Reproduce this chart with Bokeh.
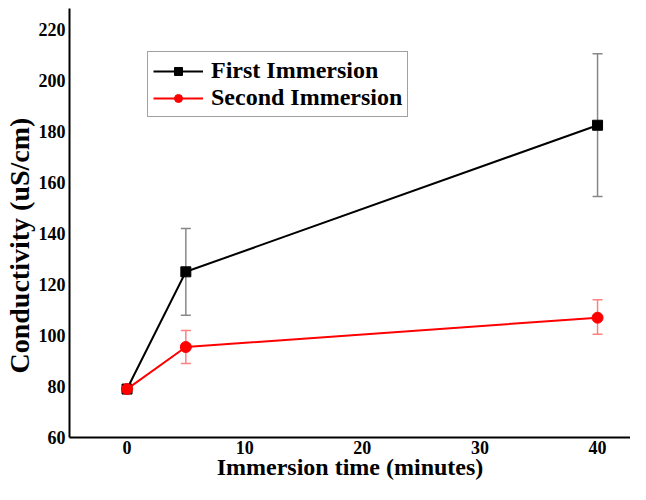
from bokeh.plotting import figure
from bokeh.models import ColumnDataSource, Whisker, TeeHead, Range1d, FixedTicker, Title
from bokeh.embed import file_html
from bokeh.resources import INLINE

time_min = [0, 5, 40]
first_mean = [79, 125, 182.5]
first_err_low = [79, 108, 154.5]
first_err_high = [79, 142, 210.5]
second_mean = [79, 95.5, 107]
second_err_low = [79, 89, 100.5]
second_err_high = [79, 102, 114]
x_ticks = [0, 10, 20, 30, 40]
y_ticks = [60, 80, 100, 120, 140, 160, 180, 200, 220]
x_title = "Immersion time (minutes)"
y_title = "Conductivity (uS/cm)"

FONT = "Liberation Serif"

p = figure(width=630, height=484, output_backend="svg", toolbar_location=None,
           x_range=Range1d(-4.89, 42.8), y_range=Range1d(60, 228.3),
           min_border_left=69, min_border_right=0, min_border_top=8, min_border_bottom=47)
p.outline_line_color = None
p.grid.visible = False
p.background_fill_color = "white"
p.border_fill_color = "white"

s1 = ColumnDataSource(dict(x=time_min, y=first_mean, lo=first_err_low, hi=first_err_high))
s2 = ColumnDataSource(dict(x=time_min, y=second_mean, lo=second_err_low, hi=second_err_high))

w1 = Whisker(source=s1, base="x", lower="lo", upper="hi", line_color="#888888", line_width=1.5,
             upper_head=TeeHead(size=10, line_color="#888888", line_width=1.5),
             lower_head=TeeHead(size=10, line_color="#888888", line_width=1.5))
w2 = Whisker(source=s2, base="x", lower="lo", upper="hi", line_color="#ff8080", line_width=1.5,
             upper_head=TeeHead(size=10, line_color="#ff8080", line_width=1.5),
             lower_head=TeeHead(size=10, line_color="#ff8080", line_width=1.5))
p.add_layout(w1)
p.add_layout(w2)

p.line("x", "y", source=s1, line_color="black", line_width=2, legend_label="First Immersion")
p.scatter("x", "y", source=s1, marker="square", size=10, color="black", legend_label="First Immersion")
p.line("x", "y", source=s2, line_color="red", line_width=2, legend_label="Second Immersion")
p.scatter("x", "y", source=s2, marker="circle", size=11, color="red", legend_label="Second Immersion")

for ax in (p.xaxis, p.yaxis):
    ax.axis_line_width = 2
    ax.axis_line_color = "black"
    ax.major_tick_in = 0
    ax.major_tick_out = 0
    ax.minor_tick_line_color = None
    ax.major_label_text_font = FONT
    ax.major_label_text_font_style = "bold"
    ax.major_label_text_font_size = "18px"
    ax.major_label_text_color = "black"

p.xaxis.ticker = FixedTicker(ticks=x_ticks)
p.yaxis.ticker = FixedTicker(ticks=y_ticks)
p.xaxis.major_label_standoff = 3
p.yaxis.major_label_standoff = 4

p.xaxis.axis_label = x_title
p.xaxis.axis_label_text_font = FONT
p.xaxis.axis_label_text_font_style = "bold"
p.xaxis.axis_label_text_font_size = "24px"
p.xaxis.axis_label_text_color = "black"
p.xaxis.axis_label_standoff = -3

yt = Title(text=y_title, align="left", offset=64, standoff=1, text_font=FONT,
           text_font_style="bold", text_font_size="28px", text_color="black")
p.add_layout(yt, "left")

lg = p.legend[0]
lg.location = (78, 320)
lg.label_text_font = FONT
lg.label_text_font_style = "bold"
lg.label_text_font_size = "24px"
lg.label_text_color = "black"
lg.border_line_color = "#444444"
lg.border_line_width = 1
lg.glyph_width = 50
lg.label_height = 25
lg.label_standoff = 8
lg.spacing = 0
lg.padding = 5
lg.margin = 0

open("out.html", "w").write(file_html(p, INLINE))
